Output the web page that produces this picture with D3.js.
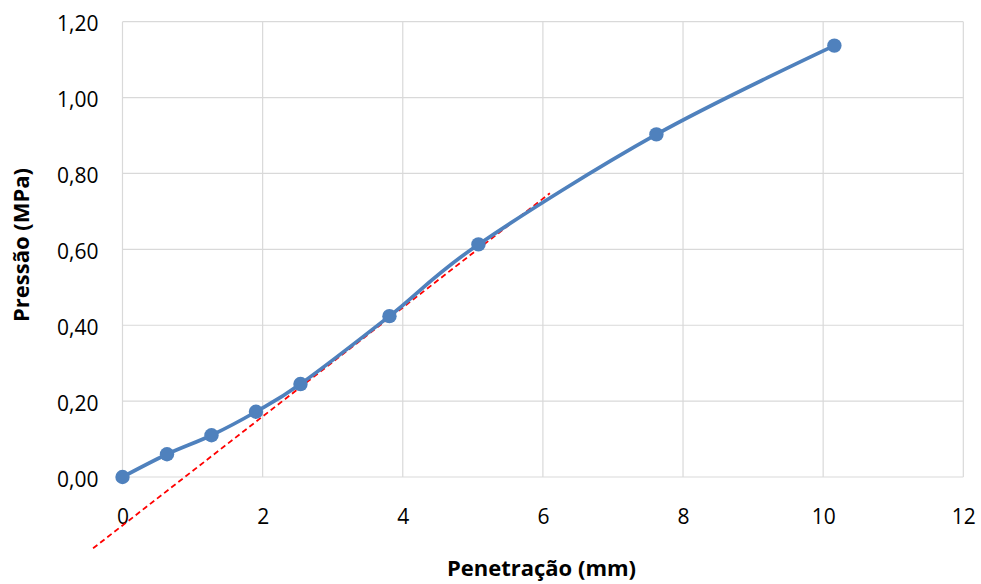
<!DOCTYPE html>
<html>
<head>
<meta charset="utf-8">
<script src="https://cdn.jsdelivr.net/npm/d3@7"></script>
<style>
  html, body { margin: 0; padding: 0; background: #fff; }
  svg { display: block; }
  text { font-family: "Open Sans", Lato, sans-serif; fill: #000; }
</style>
</head>
<body>
<svg id="chart" width="981" height="584"></svg>
<script>
// Penetration test: measured pressure vs. penetration
const penetration = [0, 0.635, 1.27, 1.905, 2.54, 3.81, 5.08, 7.62, 10.16];
const pressure = [0, 0.06, 0.11, 0.172, 0.245, 0.424, 0.613, 0.903, 1.137];

// Straight correction line through the linear stretch
const tangentX = [-0.42, 6.10];
const tangentY = [-0.188, 0.748];

const xTicks = [0, 2, 4, 6, 8, 10, 12];
const yTicks = [0, 0.2, 0.4, 0.6, 0.8, 1.0, 1.2];

const xTitle = "Penetração (mm)";
const yTitle = "Pressão (MPa)";

const svg = d3.select("#chart");
const plotLeft = 122.5, plotRight = 963.3, plotTop = 21.7, plotBottom = 477;

const x = d3.scaleLinear().domain([0, 12]).range([plotLeft, plotRight]);
const y = d3.scaleLinear().domain([0, 1.2]).range([plotBottom, plotTop]);

const fmt = v => d3.format(".2f")(v).replace(".", ",");

// gridlines
const grid = svg.append("g").attr("stroke", "#d9d9d9").attr("stroke-width", 1.2);
grid.selectAll("line.h").data(yTicks).join("line")
  .attr("x1", plotLeft).attr("x2", plotRight)
  .attr("y1", d => y(d)).attr("y2", d => y(d));
grid.selectAll("line.v").data(xTicks).join("line")
  .attr("y1", plotTop).attr("y2", plotBottom)
  .attr("x1", d => x(d)).attr("x2", d => x(d));

// axes (labels only, lines drawn by the grid)
const xAxis = svg.append("g").attr("transform", `translate(0,${plotBottom})`)
  .call(d3.axisBottom(x).tickValues(xTicks).tickSize(0).tickPadding(32).tickFormat(d3.format("d")));
const yAxis = svg.append("g").attr("transform", `translate(${plotLeft},0)`)
  .call(d3.axisLeft(y).tickValues(yTicks).tickSize(0).tickPadding(24).tickFormat(fmt));
[xAxis, yAxis].forEach(g => {
  g.select(".domain").remove();
  g.selectAll("text").style("font-size", "21px").style("font-family", "'Open Sans', Lato, sans-serif").attr("fill", "#000");
});
yAxis.selectAll("text").attr("dy", "0.43em");

// dashed reference line
svg.append("line")
  .attr("x1", x(tangentX[0])).attr("y1", y(tangentY[0]))
  .attr("x2", x(tangentX[1])).attr("y2", y(tangentY[1]))
  .attr("stroke", "#ff0000").attr("stroke-width", 1.8)
  .attr("stroke-dasharray", "5.5,3.5");

// smoothed measured curve
const pts = penetration.map((p, i) => [p, pressure[i]]);
svg.append("path")
  .datum(pts)
  .attr("fill", "none")
  .attr("stroke", "#4f81bd")
  .attr("stroke-width", 3.7)
  .attr("stroke-linejoin", "round")
  .attr("d", d3.line().x(d => x(d[0])).y(d => y(d[1])).curve(d3.curveCardinal.tension(0)));

svg.append("g").selectAll("circle").data(pts).join("circle")
  .attr("cx", d => x(d[0])).attr("cy", d => y(d[1]))
  .attr("r", 7.2)
  .attr("fill", "#4f81bd");

// axis titles
svg.append("text")
  .attr("x", 541.5).attr("y", 576)
  .attr("text-anchor", "middle")
  .style("font-size", "22px").style("font-weight", "bold")
  .text(xTitle);
svg.append("text")
  .attr("transform", "translate(29,245) rotate(-90)")
  .attr("text-anchor", "middle")
  .style("font-size", "22px").style("font-weight", "bold")
  .text(yTitle);
</script>
</body>
</html>
